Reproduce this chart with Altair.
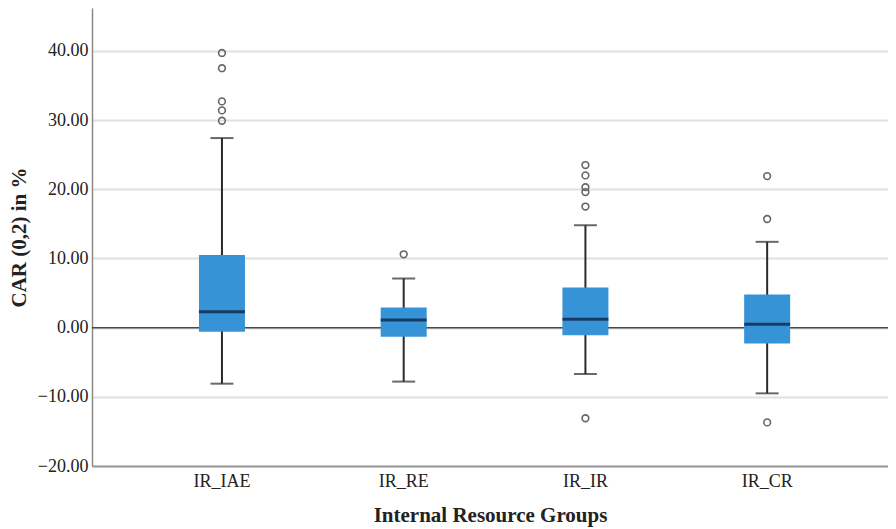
import altair as alt
import pandas as pd

groups = ["IR_IAE", "IR_RE", "IR_IR", "IR_CR"]
lower_whisker = [-8.1, -7.8, -6.7, -9.5]
q1 = [-0.6, -1.3, -1.1, -2.3]
median = [2.3, 1.1, 1.2, 0.5]
q3 = [10.5, 2.9, 5.8, 4.8]
upper_whisker = [27.4, 7.1, 14.8, 12.4]

outlier_group = ["IR_IAE", "IR_IAE", "IR_IAE", "IR_IAE", "IR_IAE",
                 "IR_RE",
                 "IR_IR", "IR_IR", "IR_IR", "IR_IR", "IR_IR", "IR_IR",
                 "IR_CR", "IR_CR", "IR_CR"]
outlier_value = [39.7, 37.5, 32.7, 31.4, 29.9,
                 10.6,
                 23.5, 22.0, 20.3, 19.6, 17.5, -13.1,
                 21.9, 15.7, -13.7]

y_ticks = [-20, -10, 0, 10, 20, 30, 40]

stats = pd.DataFrame({
    "group": groups, "lo": lower_whisker, "q1": q1, "med": median,
    "q3": q3, "hi": upper_whisker,
})
outs = pd.DataFrame({"group": outlier_group, "value": outlier_value})
zero = pd.DataFrame({"y": [0]})

FONT = "Liberation Serif"

xscale = alt.Scale(domain=groups, paddingInner=0, paddingOuter=0.19, align=0.566)
yscale = alt.Scale(domain=[-20, 46.2], nice=False, zero=False)

x_enc = alt.X("group:N", scale=xscale, sort=groups,
              title="Internal Resource Groups",
              axis=alt.Axis(labelAngle=0, ticks=False, grid=False,
                            domainColor="#9a9a9a", domainWidth=2,
                            labelFont=FONT, labelFontSize=18, labelColor="#222222",
                            labelPadding=6,
                            titleFont=FONT, titleFontSize=21, titleFontWeight="bold",
                            titleColor="#222222", titlePadding=14))

y_axis = alt.Axis(values=y_ticks, format=".2f", ticks=False,
                  grid=True, gridColor="#e0e0e0", gridWidth=2,
                  domainColor="#8a8a8a", domainWidth=1.5,
                  labelFont=FONT, labelFontSize=18, labelColor="#222222",
                  labelPadding=4,
                  titleFont=FONT, titleFontSize=21, titleFontWeight="bold",
                  titleColor="#222222", titlePadding=8)

base = alt.Chart(stats)

zero_line = alt.Chart(zero).mark_rule(color="#4a4a4a", strokeWidth=1.5).encode(
    y=alt.Y("y:Q", scale=yscale, axis=y_axis, title="CAR (0,2) in %")
)

whisker = base.mark_rule(color="#2a2a2a", strokeWidth=2).encode(
    x=x_enc,
    y=alt.Y("lo:Q", scale=yscale),
    y2="hi:Q",
)

box = base.mark_bar(size=46, color="#3593d6").encode(
    x=alt.X("group:N", scale=xscale, sort=groups),
    y=alt.Y("q1:Q", scale=yscale),
    y2="q3:Q",
)

med = base.mark_tick(size=46, thickness=3, color="#0b1636").encode(
    x=alt.X("group:N", scale=xscale, sort=groups),
    y=alt.Y("med:Q", scale=yscale),
)

cap_hi = base.mark_tick(size=23, thickness=2, color="#2a2a2a").encode(
    x=alt.X("group:N", scale=xscale, sort=groups),
    y=alt.Y("hi:Q", scale=yscale),
)
cap_lo = base.mark_tick(size=23, thickness=2, color="#2a2a2a").encode(
    x=alt.X("group:N", scale=xscale, sort=groups),
    y=alt.Y("lo:Q", scale=yscale),
)

points = alt.Chart(outs).mark_point(filled=False, color="#666666", size=45,
                                    strokeWidth=1.6, opacity=1).encode(
    x=alt.X("group:N", scale=xscale, sort=groups),
    y=alt.Y("value:Q", scale=yscale),
)

chart = alt.layer(zero_line, whisker, box, med, cap_hi, cap_lo, points).properties(
    width=796, height=458,
    padding={"left": 84, "top": 0, "right": 0, "bottom": 63},
    autosize="none",
    background="white",
).configure_view(stroke=None)

chart.save("out.html", embed_options={"renderer": "svg", "actions": False})
